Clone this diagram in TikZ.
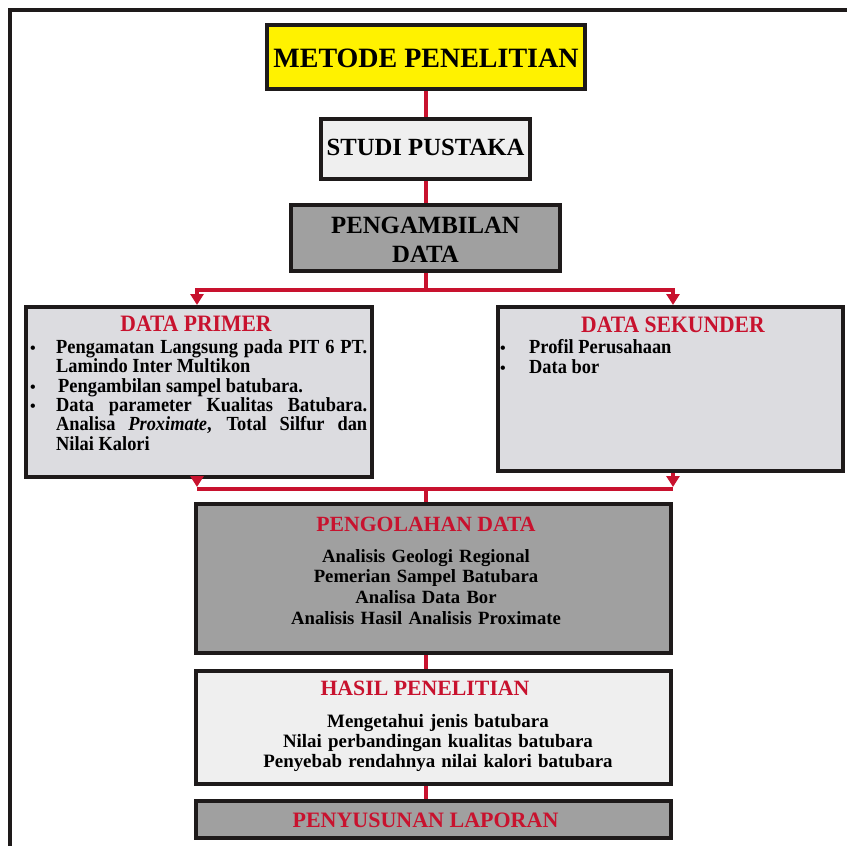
\documentclass[tikz,border=0pt]{standalone}
\usepackage{fontspec}
\setmainfont{Liberation Serif}
\newfontfamily\condfont[FakeStretch=0.92]{Liberation Serif}
\usetikzlibrary{arrows.meta}
\definecolor{myred}{RGB}{200,18,46}
\definecolor{boxline}{RGB}{30,26,26}
\definecolor{yel}{RGB}{255,242,0}
\definecolor{lightfill}{RGB}{239,239,239}
\definecolor{midgray}{RGB}{160,160,160}
\definecolor{datagray}{RGB}{220,220,224}
\newcommand\fsz[2]{\fontsize{#1}{#2}\selectfont}
\begin{document}
\begin{tikzpicture}[x=1pt,y=-1pt,
  box/.style={draw=boxline, line width=4pt, inner sep=0pt, rectangle},
  conn/.style={draw=myred, line width=4pt},
  tip/.style={-{Triangle[width=13pt,length=11pt]}},
  lbl/.style={inner sep=0pt, anchor=base},
  redtxt/.style={text=myred},
  dtitle/.style={lbl, redtxt, font=\condfont\bfseries\fsz{23.5}{26}},
  ditem/.style={inner sep=0pt, anchor=base west, font=\condfont\bfseries\fsz{20}{19.4}},
  dbullet/.style={inner sep=0pt, anchor=base, font=\bfseries\fsz{16}{18}}
]
\useasboundingbox (0,0) rectangle (847,846);
\fill[white] (0,0) rectangle (847,846);
\draw[line width=4pt, draw=boxline] (10,846) -- (10,9.5) -- (847,9.5);

% top boxes
\node[box, fill=yel, minimum width=318pt, minimum height=64pt] (metode) at (426,57) {};
\node[lbl, font=\bfseries\fsz{28}{30}] (tmetode) at (426,67) {METODE PENELITIAN};

\node[box, fill=lightfill, minimum width=209pt, minimum height=60pt] (studi) at (425.5,149) {};
\node[lbl, font=\bfseries\fsz{24.7}{28}] (tstudi) at (425.5,155) {STUDI PUSTAKA};

\node[box, fill=midgray, minimum width=269pt, minimum height=66pt] (ambil) at (425.5,238) {};
\node[lbl, font=\bfseries\fsz{24.8}{29}, align=center, text width=260pt] (tambil) at (425.5,233) {PENGAMBILAN\\DATA};

% data boxes
\node[box, fill=datagray, minimum width=346pt, minimum height=170pt] (prim) at (199,392) {};
\node[dtitle] (tprim) at (196,331) {DATA PRIMER};
\node[dbullet] (bp1) at (33,353) {\textbullet};
\node[ditem] (ip1a) at (56,353) {\makebox[311pt][s]{Pengamatan Langsung pada PIT 6 PT.}};
\node[ditem] (ip1b) at (56,372.5) {Lamindo Inter Multikon};
\node[dbullet] (bp2) at (33,392) {\textbullet};
\node[ditem] (ip2) at (58,392) {Pengambilan sampel batubara.};
\node[dbullet] (bp3) at (33,411) {\textbullet};
\node[ditem] (ip3a) at (56,411) {\makebox[311pt][s]{Data parameter Kualitas Batubara.}};
\node[ditem] (ip3b) at (56,430.5) {\makebox[311pt][s]{Analisa \textit{Proximate}, Total Silfur dan}};
\node[ditem] (ip3c) at (56,450) {Nilai Kalori};

\node[box, fill=datagray, minimum width=345pt, minimum height=164pt] (sek) at (670.5,389) {};
\node[dtitle] (tsek) at (673,332) {DATA SEKUNDER};
\node[dbullet] (bs1) at (503,353) {\textbullet};
\node[ditem] (is1) at (529,353) {Profil Perusahaan};
\node[dbullet] (bs2) at (503,373) {\textbullet};
\node[ditem] (is2) at (529,373) {Data bor};

% lower boxes
\node[box, fill=midgray, minimum width=475pt, minimum height=149pt] (olah) at (433.5,578.5) {};
\node[lbl, redtxt, font=\bfseries\fsz{21.7}{24}] (tolah) at (426,531) {PENGOLAHAN DATA};
\node[lbl, align=center, text width=440pt, font=\bfseries\fsz{18.7}{20.7}] (bolah) at (426,562)
 {Analisis Geologi Regional\\Pemerian Sampel Batubara\\Analisa Data Bor\\Analisis Hasil Analisis Proximate};

\node[box, fill=lightfill, minimum width=475pt, minimum height=113pt] (hasil) at (433.5,727.5) {};
\node[lbl, redtxt, font=\bfseries\fsz{21.8}{24}] (thasil) at (425,695) {HASIL PENELITIAN};
\node[lbl, align=center, text width=440pt, font=\bfseries\fsz{18.9}{20.2}] (bhasil) at (438,727)
 {Mengetahui jenis batubara\\Nilai perbandingan kualitas batubara\\Penyebab rendahnya nilai kalori batubara};

\node[box, fill=midgray, minimum width=475pt, minimum height=37pt] (susun) at (433.5,819.5) {};
\node[lbl, redtxt, font=\bfseries\fsz{22}{24}] (tsusun) at (425.5,827) {PENYUSUNAN LAPORAN};

% connectors
\coordinate (split) at (425.5,290);
\coordinate (merge) at (425.5,489);
\coordinate (pin) at (197,300);
\coordinate (sin) at (673,300);
\draw[conn] (metode.south) -- (metode.south |- studi.north);
\draw[conn] (studi.south) -- (studi.south |- ambil.north);
\draw[conn] (ambil.south) -- (split);
\draw[conn, tip] (split) -| (pin |- prim.north);
\draw[conn, tip] (split) -| (sin |- sek.north);
\draw[conn, tip, shorten >=2pt] (pin |- prim.south) -- (pin |- merge);
\draw[conn, tip, shorten >=2pt] (sin |- sek.south) -- (sin |- merge);
\draw[conn] (pin |- merge) -- (sin |- merge);
\draw[conn] (merge) -- (merge |- olah.north);
\draw[conn] (merge |- olah.south) -- (merge |- hasil.north);
\draw[conn] (merge |- hasil.south) -- (merge |- susun.north);
\end{tikzpicture}
\end{document}
